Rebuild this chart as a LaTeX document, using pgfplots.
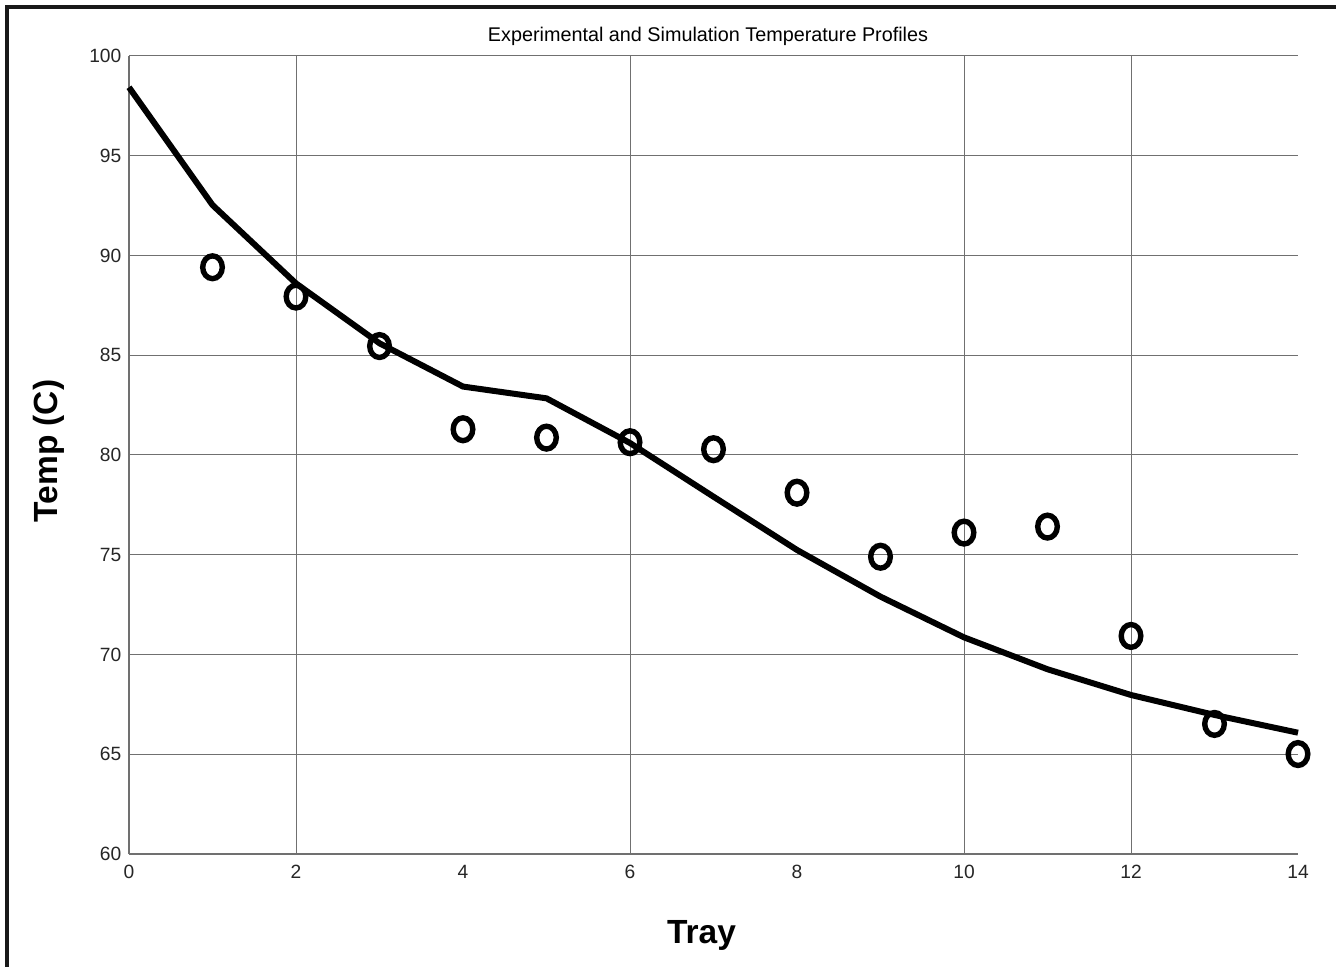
\documentclass[border=0pt]{standalone}
\usepackage{fontspec}
\setmainfont{Liberation Sans}
\usepackage{pgfplots}
\pgfplotsset{compat=1.18}
\definecolor{gridgray}{HTML}{707070}
\begin{document}
\begin{tikzpicture}
\useasboundingbox (-64.5pt,-56.5pt) rectangle (603.5pt,427pt);
\draw[line width=2pt, color=black!90] (-60.75pt,-80pt) -- (-60.75pt,423.25pt) -- (640pt,423.25pt);
\begin{axis}[
  at={(0,0)}, anchor=south west,
  scale only axis, width=584.5pt, height=399pt,
  xmin=0, xmax=14, ymin=60, ymax=100,
  xtick={0,2,...,14}, ytick={60,65,...,100},
  axis x line*=bottom, axis y line*=left,
  axis line style={gridgray, line width=0.6pt, -},
  major tick length=0pt,
  ymajorgrids,
  grid style={gridgray, line width=0.5pt},
  extra x ticks={2,6,10,12}, extra x tick labels={},
  extra x tick style={grid=major, major tick length=0pt},
  /pgf/number format/assume math mode=true,
  tick label style={font=\fontsize{9.6}{11}\selectfont, text=black!85},
  xticklabel style={yshift=-2.2pt},
  yticklabel style={xshift=-0.3pt},
  title={Experimental and Simulation Temperature Profiles},
  title style={at={(rel axis cs:0.5,1)}, anchor=center, yshift=4pt, xshift=-2.75pt, font=\fontsize{9.9}{11}\selectfont},
  xlabel={Tray},
  xlabel style={at={(rel axis cs:0.5,0)}, anchor=base, yshift=-44.5pt, xshift=-6pt, font=\bfseries\fontsize{16.75}{18}\selectfont},
  ylabel={Temp (C)},
  ylabel style={at={(rel axis cs:0,0.5)}, anchor=base, yshift=35.5pt, xshift=2pt, font=\bfseries\fontsize{16.75}{18}\selectfont},
  clip=false,
]
\addplot[black, line width=3pt, line join=round, no marks] coordinates {
(0,98.43) (1,92.53) (2,88.6) (3,85.6) (4,83.43) (5,82.84) (6,80.6) (7,77.91)
(8,75.24) (9,72.9) (10,70.86) (11,69.26) (12,67.97) (13,66.97) (14,66.08)
};
\addplot[only marks, mark=o, mark size=5.7pt, mark options={black, line width=2.7pt, xscale=0.86}] coordinates {
(1,89.41) (2,87.94) (3,85.46) (4,81.29) (5,80.87) (6,80.64) (7,80.29)
(8,78.11) (9,74.90) (10,76.11) (11,76.41) (12,70.93) (13,66.52) (14,65.01)
};
\end{axis}
\end{tikzpicture}
\end{document}
